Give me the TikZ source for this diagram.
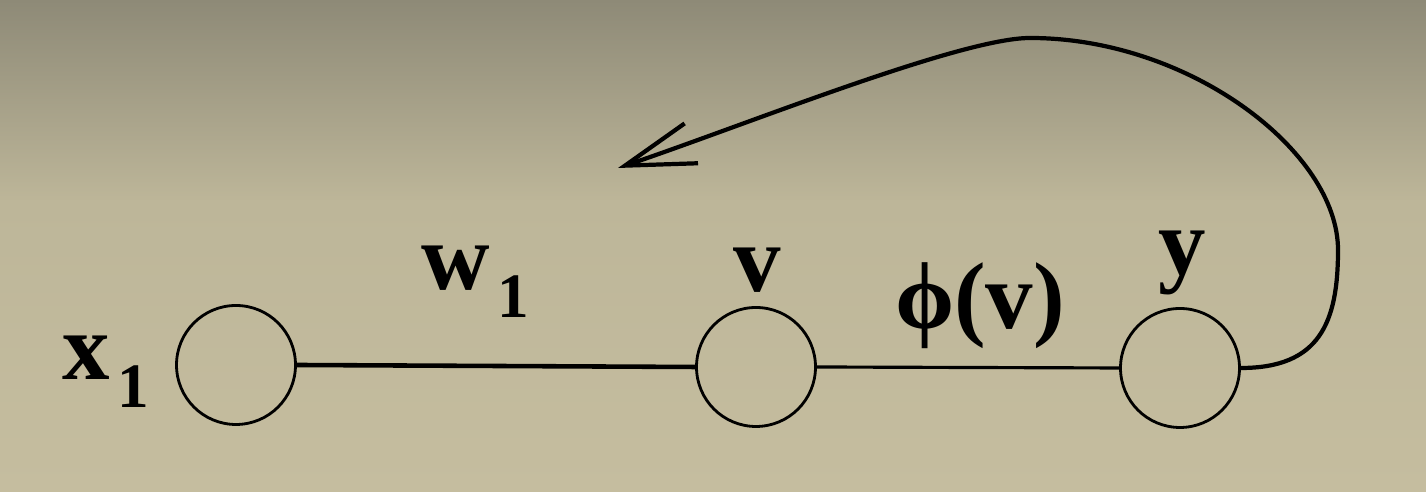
\documentclass[tikz,border=0pt]{standalone}
\usepackage{fontspec}
\setmainfont{Liberation Serif}
\usepackage{tikz}
\usetikzlibrary{arrows.meta, positioning}

\definecolor{bgtop}{HTML}{8E8A77}
\definecolor{bgmid}{HTML}{BDB699}
\definecolor{bgbot}{HTML}{C5BD9F}

\newcommand{\lowidx}[1]{\kern0.08em\raisebox{-0.3em}{\fontsize{18}{18}\selectfont #1}}

\tikzset{
    unit/.style={draw, circle, line width=0.8pt, minimum size=1.19cm, inner sep=0pt},
    lbl/.style={font=\fontsize{27}{29}\selectfont\bfseries, inner sep=0pt},
}

\begin{document}
\begin{tikzpicture}[>={Straight Barb[length=7mm, width=4.2mm]}]
    % 0. Nền
    \useasboundingbox (0,0) rectangle (14.26,4.92);
    \shade[top color=bgmid, bottom color=bgbot] (0,0) rectangle (14.26,2.9);
    \shade[top color=bgtop, bottom color=bgmid] (0,2.9) rectangle (14.26,4.92);

    % 1. Các nút
    \node[unit] (x1) at (2.36,1.27) {};
    \node[unit] (v)  at (7.56,1.25) {};
    \node[unit] (y)  at (11.80,1.24) {};

    % 2. Nhãn
    \node[lbl] (lx) at (1.06,1.20) {x\lowidx{1}};
    \node[lbl] (lw) at (4.75,2.10) {w\lowidx{1}};
    \node[lbl] (lv) at (7.57,2.22) {v};
    \node[lbl] (lphi) at (9.80,1.86) {ϕ(v)};
    \node[lbl] (ly) at (11.82,2.29) {y};

    % 3. Cạnh nối
    \draw[line width=1.3pt] (x1.east) -- (v.west);
    \draw[line width=0.9pt] (v.east) -- (y.west);

    % 4. Đường phản hồi
    \coordinate (back) at (6.18,3.24);
    \draw[->, line width=1.2pt] (y.east)
        .. controls (13.2,1.24) and (13.38,1.7) .. (13.38,2.42)
        .. controls (13.38,3.4) and (11.9,4.54) .. (10.3,4.54)
        .. controls (9.6,4.54) and (7.4,3.65) .. (back);
\end{tikzpicture}
\end{document}
